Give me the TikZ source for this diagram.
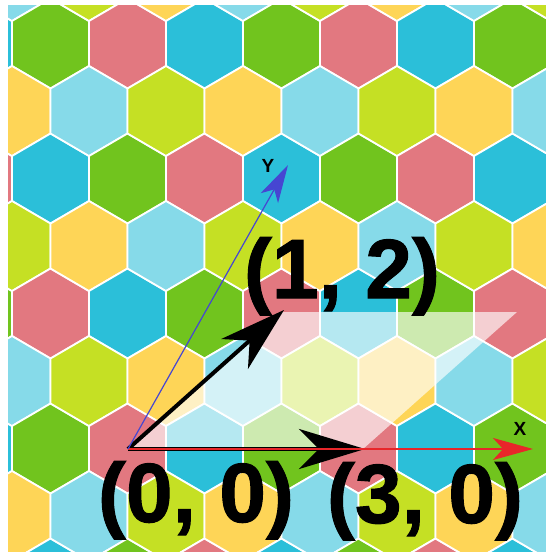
\documentclass[tikz,border=0pt]{standalone}
\usepackage{fontspec}
\setmainfont{Liberation Sans}
\newfontfamily\heavyfont[FakeBold=1.2]{Liberation Sans Bold}
\usetikzlibrary{arrows.meta}
\definecolor{cG}{HTML}{71C41E}
\definecolor{cP}{HTML}{E27880}
\definecolor{cC}{HTML}{2BBFD9}
\definecolor{cL}{HTML}{86DAE9}
\definecolor{cY}{HTML}{FED557}
\definecolor{cM}{HTML}{C5E024}
\colorlet{odd0}{cG}
\colorlet{odd1}{cP}
\colorlet{odd2}{cC}
\colorlet{even0}{cL}
\colorlet{even1}{cM}
\colorlet{even2}{cY}
\definecolor{axisred}{HTML}{E8262A}
\definecolor{axisblue}{HTML}{4646D2}
\begin{document}
\begin{tikzpicture}[x=1pt,y=-1pt,
  hexcell/.style={draw=white,line width=1.8pt},
  overlay box/.style={fill=white,opacity=0.65},
  blackarrow/.style={draw=black,line width=4pt,-{Stealth[length=66pt,width=40pt,inset=20pt]}},
  redaxis/.style={draw=axisred,line width=2pt,-{Stealth[length=40pt,width=22pt,inset=10pt]}},
  blueaxis/.style={draw=axisblue,line width=1.2pt,-{Stealth[length=38pt,width=20pt,inset=10pt]}},
  biglabel/.style={font=\heavyfont\fontsize{84}{84}\selectfont,inner sep=0pt,anchor=base},
  axislabel/.style={font=\bfseries\fontsize{19}{19}\selectfont,inner sep=0pt}]
\useasboundingbox (0,0) rectangle (546,552);
\fill[white] (0,0) rectangle (546,552);
\begin{scope}
\clip (8,5) rectangle (546,552);
\foreach \j in {0,...,4}{
  \foreach \k in {-1,...,7}{
    \pgfmathsetmacro{\cx}{12+77*\k}
    \pgfmathsetmacro{\cy}{-24+135*\j}
    \pgfmathtruncatemacro{\ci}{mod(\k-\j+9,3)}
    \filldraw[hexcell,fill=even\ci] (\cx,{\cy-45}) -- ({\cx+38.5},{\cy-22.5}) -- ({\cx+38.5},{\cy+22.5}) -- (\cx,{\cy+45}) -- ({\cx-38.5},{\cy+22.5}) -- ({\cx-38.5},{\cy-22.5}) -- cycle;
    \pgfmathsetmacro{\dx}{50.5+77*\k}
    \pgfmathsetmacro{\dy}{43.5+135*\j}
    \filldraw[hexcell,fill=odd\ci] (\dx,{\dy-45}) -- ({\dx+38.5},{\dy-22.5}) -- ({\dx+38.5},{\dy+22.5}) -- (\dx,{\dy+45}) -- ({\dx-38.5},{\dy+22.5}) -- ({\dx-38.5},{\dy-22.5}) -- cycle;
  }
}
\end{scope}
\coordinate (O) at (128,449);
\coordinate (P12) at (284,310);
\coordinate (P42) at (517,312);
\coordinate (P30) at (365,449);
\coordinate (Xtip) at (533,449);
\coordinate (Ytip) at (288,165);
\fill[overlay box] (O) -- (282,312) -- (P42) -- (363,449) -- cycle;
\draw[blackarrow] (O) -- (P12);
\draw[blackarrow] (O) -- (P30);
\draw[redaxis] (O) -- (Xtip);
\draw[blueaxis] (O) -- (Ytip);
\node[axislabel] (xl) at (520,429) {X};
\node[axislabel] (yl) at (268,166) {Y};
\node[biglabel] (l12) at (342,298) {(1, 2)};
\node[biglabel] (l00) at (196,522) {(0, 0)};
\node[biglabel] (l30) at (425,523) {(3, 0)};
\end{tikzpicture}
\end{document}
